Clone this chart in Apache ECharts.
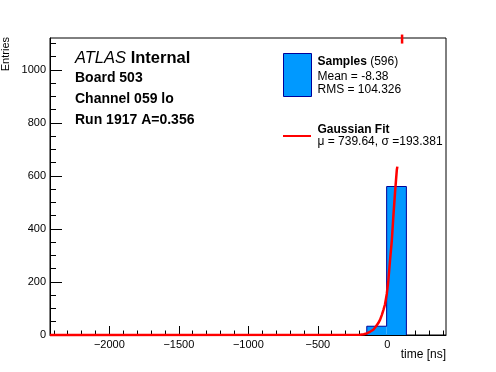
<!DOCTYPE html>
<html>
<head>
<meta charset="utf-8">
<script src="https://cdn.jsdelivr.net/npm/echarts@6/dist/echarts.min.js"></script>
<style>html,body{margin:0;padding:0;background:#fff;}#c{width:496px;height:372px;}</style>
</head>
<body>
<div id="c"></div>
<script>
// ---- data ----
const binEdges = [-148, -5, 137];
const binCounts = [33, 560];
const fitX = [-2427, -196, -170, -148, -125, -101, -85, -65, -52, -40, -28, -17, -4, 7, 19, 32, 43, 55, 68, 72];
const fitY = [0, 1, 3, 6, 12, 20, 30, 45, 58, 75, 95, 115, 155, 205, 280, 355, 445, 535, 622, 635];
const fitTopX = [106, 106];
const fitTopY = [1133, 1099];
const xLabels = [-2000, -1500, -1000, -500, 0];
const xMinorTicks = [-2400,-2300,-2200,-2100,-2000,-1900,-1800,-1700,-1600,-1500,-1400,-1300,-1200,-1100,-1000,-900,-800,-700,-600,-500,-400,-300,-200,-100,0,100,200,300,400];
const yLabels = [0, 200, 400, 600, 800, 1000];
const yMinorTicks = [0,50,100,150,200,250,300,350,400,450,500,550,600,650,700,750,800,850,900,950,1000,1050,1100];
const xRange = [-2427, 422];
const yRange = [0, 1120];

const FONT = "'Liberation Sans', Arial, Helvetica, sans-serif";
const chart = echarts.init(document.getElementById('c'), null, {renderer: 'canvas'});

const histRects = binCounts.map((c, i) => [binEdges[i], binEdges[i + 1], c]);
const outline = [[binEdges[0], 0]];
binCounts.forEach((c, i) => { outline.push([binEdges[i], c]); outline.push([binEdges[i + 1], c]); });
outline.push([binEdges[binEdges.length - 1], 0]);
const fitData = fitX.map((x, i) => [x, fitY[i]]);
const fitTop = fitTopX.map((x, i) => [x, fitTopY[i]]);

const lineOn = {show: true, onZero: false, lineStyle: {color: '#000', width: 1}};
const lineOff = {show: false, onZero: false};

chart.setOption({
  animation: false,
  backgroundColor: '#fff',
  grid: {left: 50, right: 50, top: 38, bottom: 37, show: true, borderColor: '#000', borderWidth: 1, backgroundColor: 'transparent'},
  xAxis: [
    {
      type: 'value', splitLine: {show: false}, axisLine: lineOn,
      min: xRange[0], max: xRange[1], position: 'bottom',
      axisTick: {show: true, inside: true, length: 4.5, customValues: xMinorTicks, lineStyle: {color: '#000'}},
      axisLabel: {show: true, customValues: xLabels, margin: 4, color: '#000', fontSize: 11, fontFamily: FONT,
        formatter: v => (v < 0 ? '\u2212' + Math.abs(v) : String(v))}
    },
    {
      type: 'value', splitLine: {show: false}, axisLine: lineOff,
      min: xRange[0], max: xRange[1], position: 'bottom',
      axisTick: {show: true, inside: true, length: 9, customValues: xLabels, lineStyle: {color: '#000'}},
      axisLabel: {show: false}
    }
  ],
  yAxis: [
    {
      type: 'value', splitLine: {show: false}, axisLine: lineOn,
      min: yRange[0], max: yRange[1], position: 'left',
      axisTick: {show: true, inside: true, length: 6, customValues: yMinorTicks, lineStyle: {color: '#000'}},
      axisLabel: {show: true, customValues: yLabels, margin: 4, color: '#000', fontSize: 11, fontFamily: FONT,
        formatter: v => String(v)}
    },
    {
      type: 'value', splitLine: {show: false}, axisLine: lineOff,
      min: yRange[0], max: yRange[1], position: 'left',
      axisTick: {show: true, inside: true, length: 12, customValues: yLabels, lineStyle: {color: '#000'}},
      axisLabel: {show: false}
    }
  ],
  series: [
    {
      type: 'custom', xAxisIndex: 0, yAxisIndex: 0, data: histRects, z: 2,
      renderItem: function (params, api) {
        const p0 = api.coord([api.value(0), api.value(2)]);
        const p1 = api.coord([api.value(1), 0]);
        return {type: 'rect', shape: {x: p0[0], y: p0[1], width: p1[0] - p0[0], height: p1[1] - p0[1]},
          style: {fill: '#0099ff', stroke: null}};
      }
    },
    {type: 'line', data: outline, symbol: 'none', z: 3, lineStyle: {color: '#000099', width: 1}, silent: true},
    {type: 'line', data: fitData, symbol: 'none', z: 4, clip: false, smooth: false, lineStyle: {color: '#ff0000', width: 2.5}, silent: true},
    {type: 'line', data: fitTop, symbol: 'none', z: 4, clip: false, lineStyle: {color: '#ff0000', width: 2.5}, silent: true}
  ],
  graphic: [
    {type: 'text', x: 6, y: 37, rotation: Math.PI / 2, style: {text: 'Entries', font: '11px ' + FONT, fill: '#000', align: 'right', verticalAlign: 'middle'}},
    {type: 'text', x: 446, y: 355, style: {text: 'time [ns]', font: '12px ' + FONT, fill: '#000', align: 'right', verticalAlign: 'middle'}},
    {type: 'text', x: 75, y: 58, style: {text: '{i|ATLAS} {b|Internal}', font: '16.5px ' + FONT, fill: '#000', align: 'left', verticalAlign: 'middle',
      rich: {i: {fontStyle: 'italic', fontSize: 16.5, fontFamily: FONT}, b: {fontWeight: 'bold', fontSize: 16.5, fontFamily: FONT}}}},
    {type: 'text', x: 75, y: 78.5, style: {text: 'Board 503', font: 'bold 14px ' + FONT, fill: '#000', align: 'left', verticalAlign: 'middle'}},
    {type: 'text', x: 75, y: 99.5, style: {text: 'Channel 059 lo', font: 'bold 14px ' + FONT, fill: '#000', align: 'left', verticalAlign: 'middle'}},
    {type: 'text', x: 75, y: 120.5, style: {text: 'Run 1917 A=0.356', font: 'bold 14px ' + FONT, fill: '#000', align: 'left', verticalAlign: 'middle'}},
    {type: 'rect', shape: {x: 283.5, y: 53.5, width: 28, height: 43}, style: {fill: '#0099ff', stroke: '#000099', lineWidth: 1}},
    {type: 'text', x: 317.5, y: 62, style: {text: '{b|Samples} {n|(596)}', font: '12px ' + FONT, fill: '#000', align: 'left', verticalAlign: 'middle',
      rich: {b: {fontWeight: 'bold', fontSize: 12, fontFamily: FONT}, n: {fontSize: 12, fontFamily: FONT}}}},
    {type: 'text', x: 317.5, y: 76.5, style: {text: 'Mean = -8.38', font: '12px ' + FONT, fill: '#000', align: 'left', verticalAlign: 'middle'}},
    {type: 'text', x: 317.5, y: 90, style: {text: 'RMS = 104.326', font: '12px ' + FONT, fill: '#000', align: 'left', verticalAlign: 'middle'}},
    {type: 'line', shape: {x1: 283, y1: 136, x2: 311, y2: 136}, style: {stroke: '#ff0000', lineWidth: 2}},
    {type: 'text', x: 317.5, y: 129.5, style: {text: 'Gaussian Fit', font: 'bold 12px ' + FONT, fill: '#000', align: 'left', verticalAlign: 'middle'}},
    {type: 'text', x: 317.5, y: 141.5, style: {text: '\u03bc = 739.64, \u03c3 =193.381', font: '12px ' + FONT, fill: '#000', align: 'left', verticalAlign: 'middle'}}
  ]
});
</script>
</body>
</html>
